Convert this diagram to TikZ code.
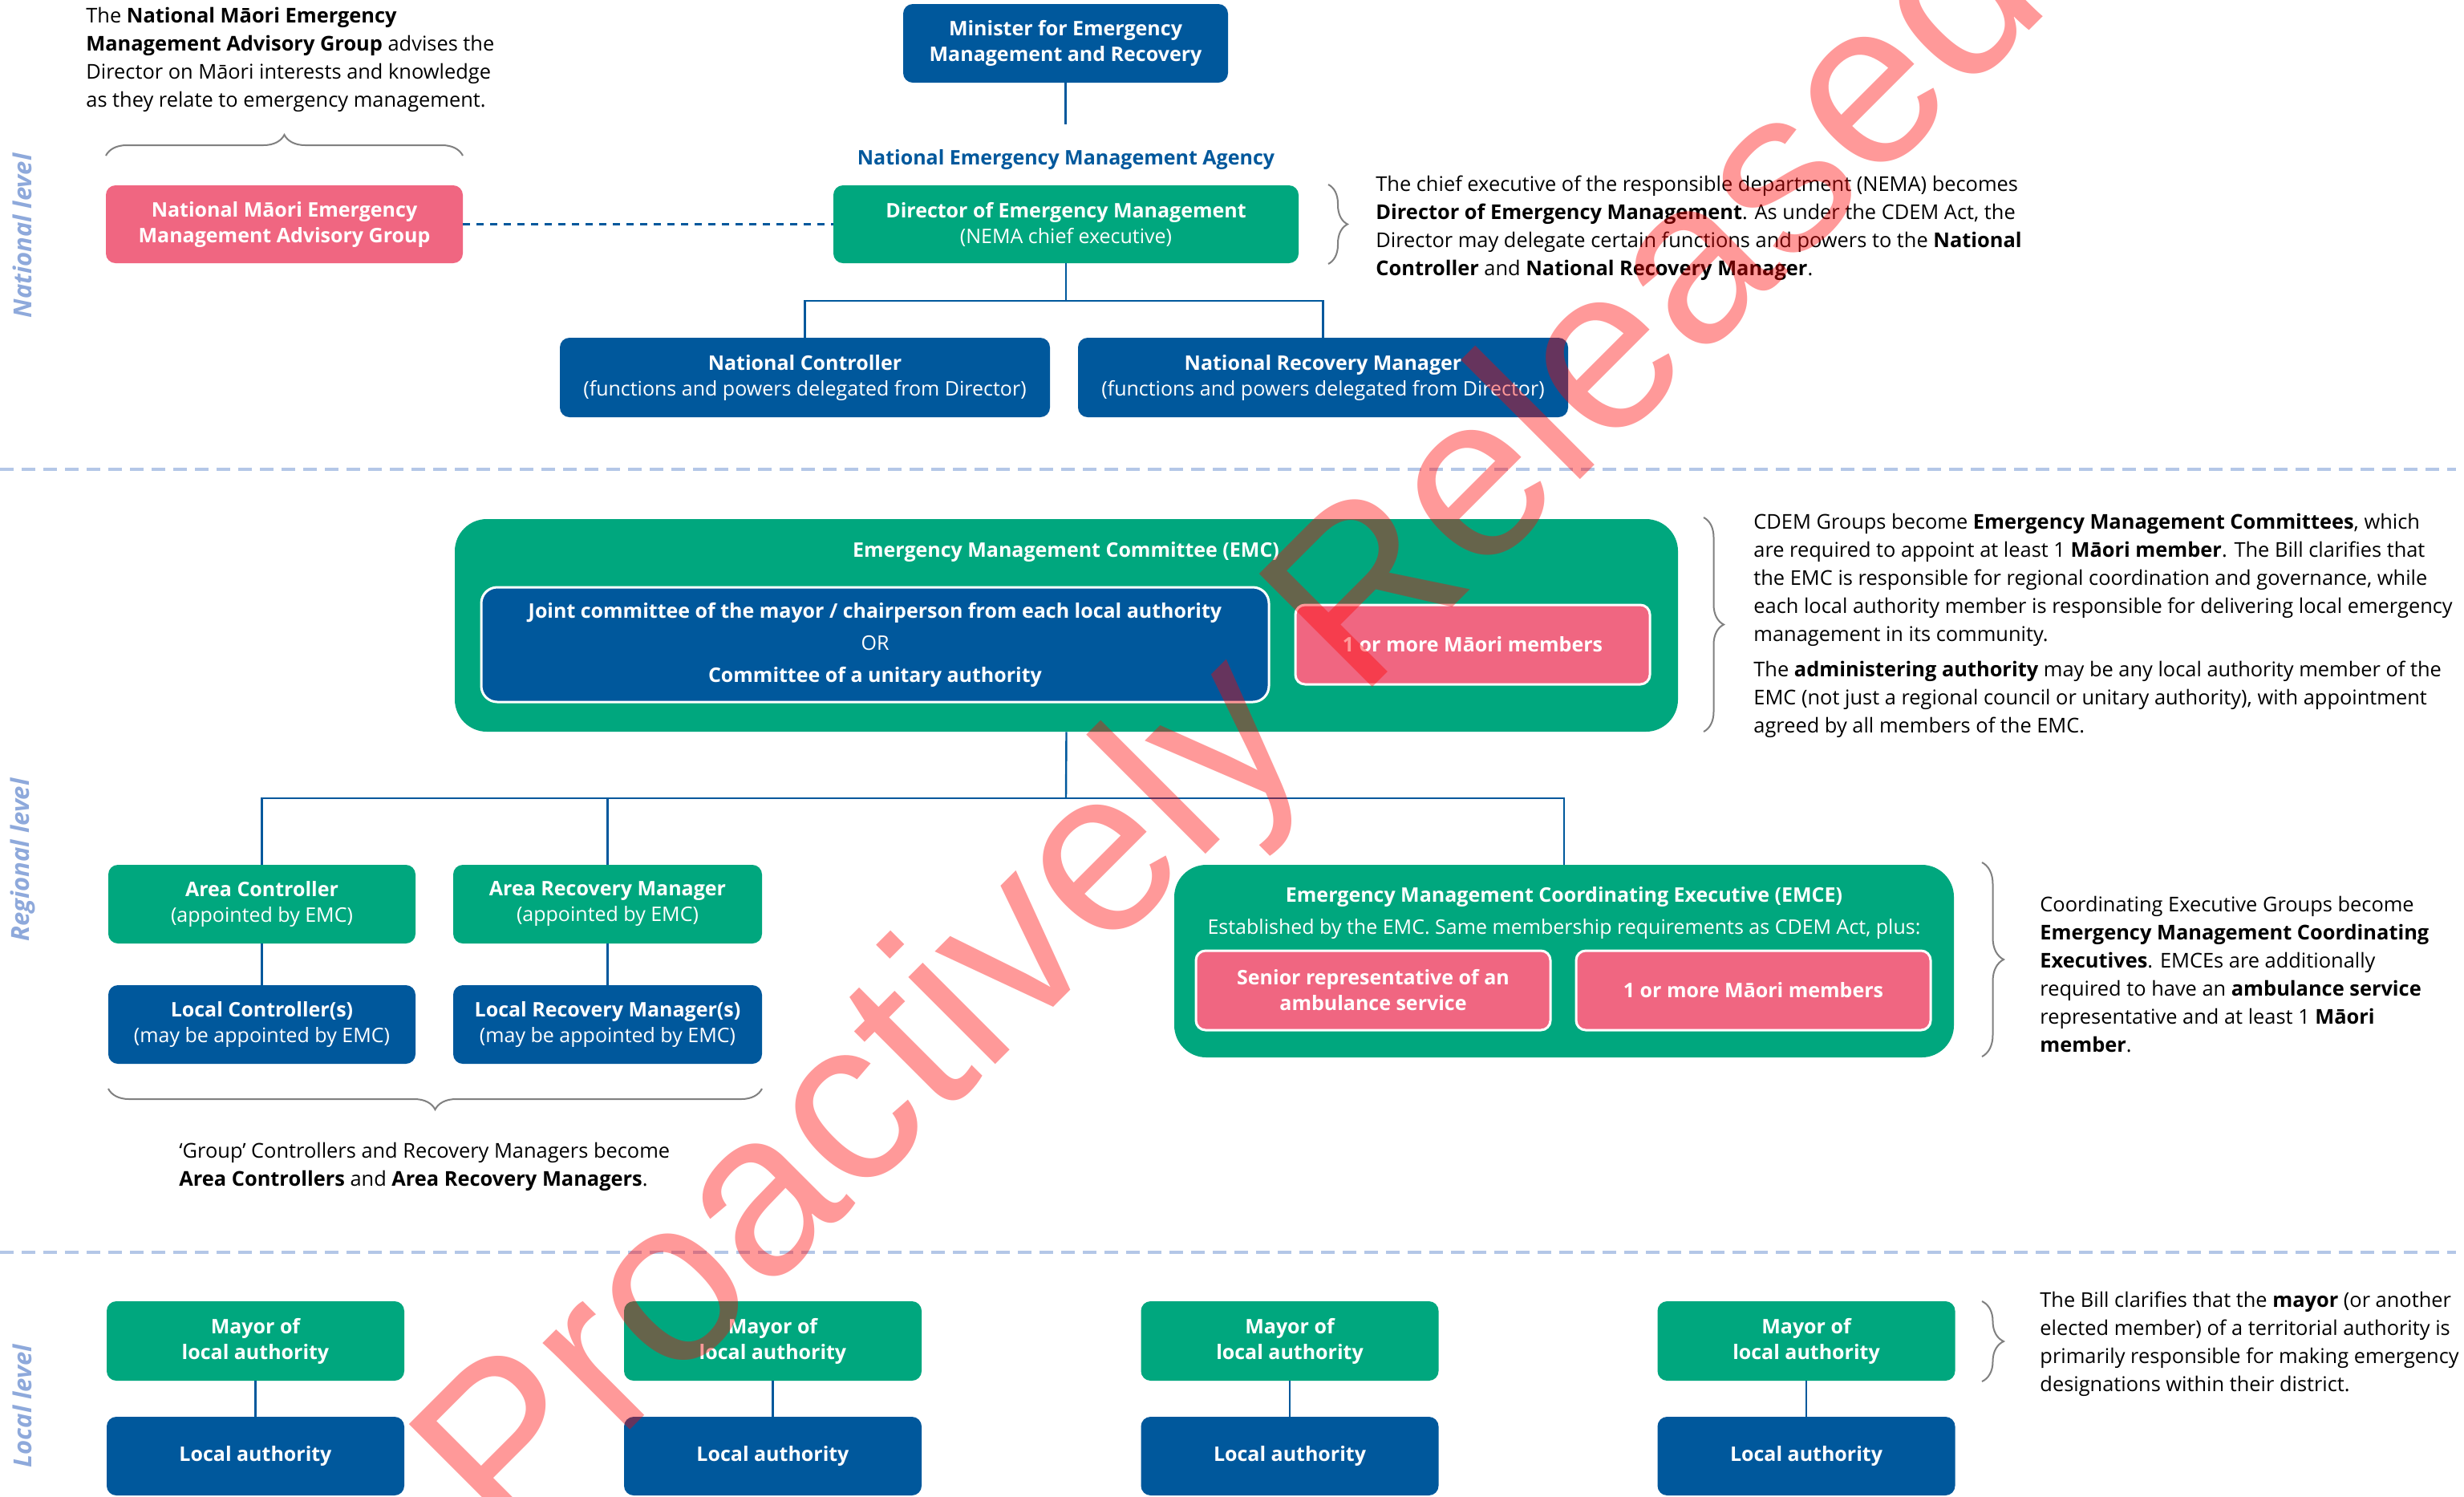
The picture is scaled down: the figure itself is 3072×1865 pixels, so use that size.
\documentclass[tikz,border=0pt]{standalone}
\usepackage{fontspec}
\setmainfont{Open Sans}
\newfontfamily\wmfont{Liberation Sans}
\usetikzlibrary{decorations.pathreplacing}
\definecolor{nblue}{HTML}{00589C}
\definecolor{ngreen}{HTML}{00A77E}
\definecolor{npink}{HTML}{F06681}
\definecolor{sidecol}{HTML}{8EA9DB}
\definecolor{sepcol}{HTML}{B4C7E7}
\definecolor{bracegray}{HTML}{808080}
\newcommand\boxfont{\fontsize{12.5}{16}\selectfont}
\newcommand\notefont{\fontsize{12.7}{17.5}\selectfont}
\newcommand\sidefont{\fontsize{15.5}{15.5}\selectfont\bfseries\itshape}
\begin{document}
\begin{tikzpicture}[x=0.5pt,y=-0.5pt,
  box/.style={rounded corners=6pt, inner sep=0pt, align=center, text=white, font=\boxfont},
  bluebox/.style={box, fill=nblue},
  greenbox/.style={box, fill=ngreen},
  pinkbox/.style={box, fill=npink},
  wbord/.style={draw=white, line width=1.5pt},
  link/.style={draw=nblue, line width=1.2pt},
  brc/.style={draw=bracegray, line width=1pt, decorate, decoration={brace, amplitude=#1}},
  note/.style={anchor=north west, align=left, inner sep=0pt, font=\notefont, text=black},
  sepline/.style={draw=sepcol, line width=2.2pt, dash pattern=on 8.5pt off 5pt},
  side/.style={rotate=90, text=sidecol, font=\sidefont, inner sep=0pt}]
\useasboundingbox (0,0) rectangle (3072,1865);
\fill[white] (0,0) rectangle (3072,1865);

% separators
\draw[sepline] (0,585) -- (3062,585);
\draw[sepline] (0,1561) -- (3062,1561);

% side labels
\node[side] (natlevel) at (28,294) {National level};
\node[side] (reglevel) at (28,1072) {Regional level};
\node[side] (loclevel) at (28,1753) {Local level};

% ---------------- National level
\node[bluebox, minimum width=202.5pt, minimum height=49pt, font=\boxfont\bfseries] (minister) at (1328.5,54) {Minister for Emergency\\Management and Recovery};
\coordinate (nemaend) at (1328.5,155);
\draw[link] (minister.south) -- (nemaend);
\node[text=nblue, font=\boxfont\bfseries, inner sep=0pt] (nema) at (1329,199) {National Emergency Management Agency};

\node[greenbox, minimum width=290pt, minimum height=48.5pt] (director) at (1329,279.5) {\textbf{Director of Emergency Management}\\(NEMA chief executive)};
\node[pinkbox, minimum width=222.5pt, minimum height=48.5pt, font=\boxfont\bfseries] (maoriadv) at (354.5,279.5) {National Māori Emergency\\Management Advisory Group};
\draw[link, dash pattern=on 4.5pt off 4pt] (maoriadv.east) -- (director.west);

\node[bluebox, minimum width=305.5pt, minimum height=49.5pt] (natctrl) at (1003.5,470.5) {\textbf{National Controller}\\(functions and powers delegated from Director)};
\node[bluebox, minimum width=305.5pt, minimum height=49.5pt] (natrec) at (1649.5,470.5) {\textbf{National Recovery Manager}\\(functions and powers delegated from Director)};
\coordinate (nbar) at (1329,375);
\draw[link] (director.south) -- (nbar) -| (natctrl.north);
\draw[link] (nbar) -| (natrec.north);

\draw[brc=13pt] (132,194) -- (577,194);
\node[note] (advnote) at (107,9) {The \textbf{National Māori Emergency}\\
\textbf{Management Advisory Group} advises the\\
Director on Māori interests and knowledge\\
as they relate to emergency management.};

\draw[brc=12pt] (1656,230) -- (1656,329);
\node[note] (dirnote) at (1715,219) {The chief executive of the responsible department (NEMA) becomes\\
\textbf{Director of Emergency Management}. As under the CDEM Act, the\\
Director may delegate certain functions and powers to the \textbf{National}\\
\textbf{Controller} and \textbf{National Recovery Manager}.};

% ---------------- Regional level
\node[greenbox, rounded corners=20pt, minimum width=762.5pt, minimum height=132.5pt] (emc) at (1329.5,779.5) {};
\node[text=white, font=\boxfont\bfseries, inner sep=0pt] (emctitle) at (1329,688) {Emergency Management Committee (EMC)};
\node[bluebox, wbord, rounded corners=10pt, minimum width=491pt, minimum height=71.5pt, font=\fontsize{12.5}{20}\selectfont] (joint) at (1091,803.5) {\textbf{Joint committee of the mayor / chairperson from each local authority}\\OR\\\textbf{Committee of a unitary authority}};
\node[pinkbox, wbord, minimum width=221pt, minimum height=49.5pt, font=\boxfont\bfseries] (emcmaori) at (1836,803.5) {1 or more Māori members};

\draw[brc=12.5pt] (2124,645) -- (2124,912);
\node[note] (emcnote) at (2186,640) {CDEM Groups become \textbf{Emergency Management Committees}, which\\
are required to appoint at least 1 \textbf{Māori member}. The Bill clarifies that\\
the EMC is responsible for regional coordination and governance, while\\
each local authority member is responsible for delivering local emergency\\
management in its community.\\[4.5pt]
The \textbf{administering authority} may be any local authority member of the\\
EMC (not just a regional council or unitary authority), with appointment\\
agreed by all members of the EMC.};

\node[greenbox, minimum width=191.5pt, minimum height=49pt] (areactrl) at (326.5,1127) {\textbf{Area Controller}\\(appointed by EMC)};
\node[greenbox, minimum width=192.5pt, minimum height=49pt] (arearec) at (757.5,1127) {\textbf{Area Recovery Manager}\\(appointed by EMC)};
\node[bluebox, minimum width=191.5pt, minimum height=49pt] (localctrl) at (326.5,1277) {\textbf{Local Controller(s)}\\(may be appointed by EMC)};
\node[bluebox, minimum width=192.5pt, minimum height=49pt] (localrec) at (757.5,1277) {\textbf{Local Recovery Manager(s)}\\(may be appointed by EMC)};

\node[greenbox, rounded corners=20pt, minimum width=486pt, minimum height=120pt] (emce) at (1950,1198) {};
\node[text=white, font=\boxfont\bfseries, inner sep=0pt] (emcetitle) at (1950,1118) {Emergency Management Coordinating Executive (EMCE)};
\node[text=white, font=\boxfont, inner sep=0pt] (emcesub) at (1950,1158) {Established by the EMC. Same membership requirements as CDEM Act, plus:};
\node[pinkbox, wbord, minimum width=221pt, minimum height=49.5pt, font=\boxfont\bfseries] (ambul) at (1712,1234.5) {Senior representative of an\\ambulance service};
\node[pinkbox, wbord, minimum width=221pt, minimum height=49.5pt, font=\boxfont\bfseries] (emcemaori) at (2186,1234.5) {1 or more Māori members};

\coordinate (rbar) at (1329,995);
\draw[link] (emc.south) -- (rbar);
\draw[link] (rbar) -| (areactrl.north);
\draw[link] (rbar) -| (arearec.north);
\draw[link] (rbar) -| (emce.north);
\draw[link] (areactrl.south) -- (localctrl.north);
\draw[link] (arearec.south) -- (localrec.north);

\draw[brc=13pt] (950,1357) -- (135,1357);
\node[note] (areanote) at (223,1424) {‘Group’ Controllers and Recovery Managers become\\
\textbf{Area Controllers} and \textbf{Area Recovery Managers}.};

\draw[brc=13.5pt] (2471,1075) -- (2471,1317);
\node[note] (emcenote) at (2543,1117) {Coordinating Executive Groups become\\
\textbf{Emergency Management Coordinating}\\
\textbf{Executives}. EMCEs are additionally\\
required to have an \textbf{ambulance service}\\
representative and at least 1 \textbf{Māori}\\
\textbf{member}.};

% ---------------- Local level
\foreach \i/\x in {1/318.5, 2/963.5, 3/1608, 4/2252}{
  \node[greenbox, minimum width=185.5pt, minimum height=49.5pt, font=\boxfont\bfseries] (mayor\i) at (\x,1671.5) {Mayor of\\local authority};
  \node[bluebox, minimum width=185.5pt, minimum height=49pt, font=\boxfont\bfseries] (local\i) at (\x,1815) {Local authority};
  \draw[link] (mayor\i.south) -- (local\i.north);
}
\draw[brc=13.5pt] (2471,1622) -- (2471,1722);
\node[note] (mayornote) at (2543,1610) {The Bill clarifies that the \textbf{mayor} (or another\\
elected member) of a territorial authority is\\
primarily responsible for making emergency\\
designations within their district.};

% watermark
\node[rotate=45, anchor=base, inner sep=0pt, text=red, text opacity=0.4, font=\wmfont\fontsize{145}{145}\selectfont] (wm) at (1598,970) {Proactively Released};
\end{tikzpicture}
\end{document}
